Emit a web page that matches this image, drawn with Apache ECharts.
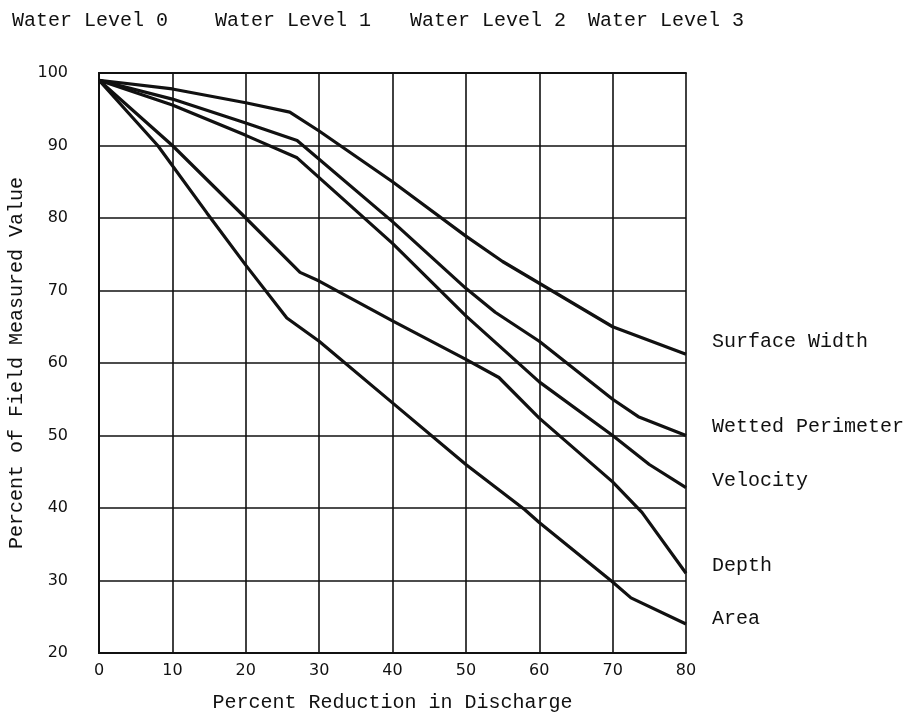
<!DOCTYPE html>
<html>
<head>
<meta charset="utf-8">
<script src="https://cdn.jsdelivr.net/npm/echarts@6/dist/echarts.min.js"></script>
<style>
  html, body { margin: 0; padding: 0; background: #fff; }
  #main { width: 914px; height: 718px; }
</style>
</head>
<body>
<div id="main"></div>
<script>
// percent reduction in discharge (x) vs percent of field measured value (y)
const surfaceWidth = [[0, 99], [10, 97.8], [20, 95.9], [26, 94.6], [30, 92], [40, 85], [50, 77.5], [55, 74], [60, 71], [70, 65], [80, 61.2]];
const wettedPerimeter = [[0, 99], [10, 96.4], [20, 93.1], [27, 90.7], [40, 79.5], [50, 70.3], [54, 67], [60, 63], [70, 55], [73.5, 52.6], [80, 50]];
const velocity = [[0, 99], [10, 95.6], [20, 91.4], [27, 88.3], [40, 76.5], [50, 66.5], [55.5, 61.5], [60, 57.4], [70, 50], [75, 46], [80, 42.8]];
const depth = [[0, 99], [10, 90], [20, 80], [27.4, 72.5], [30, 71.3], [40, 65.8], [50, 60.5], [54.5, 58], [60, 52.4], [70, 43.6], [74, 39.4], [80, 31]];
const area = [[0, 99], [8, 90], [14.7, 80.7], [20, 73.5], [25.6, 66.2], [30, 63], [40, 54.5], [50, 46], [58, 39.8], [60, 38], [70, 29.8], [72.5, 27.6], [80, 24]];

const seriesNames = ['Surface Width', 'Wetted Perimeter', 'Velocity', 'Depth', 'Area'];
const seriesData = [surfaceWidth, wettedPerimeter, velocity, depth, area];
const waterLevels = ['Water Level 0', 'Water Level 1', 'Water Level 2', 'Water Level 3'];

const myChart = echarts.init(document.getElementById('main'));

const mono = 'Liberation Mono';
const labelY = [343, 428, 482, 567, 620];
const levelX = [12, 215, 410, 588];

const graphics = [];
seriesNames.forEach(function (n, i) {
  graphics.push({
    type: 'text', left: 712, top: labelY[i] - 11,
    style: { text: n, font: '20px ' + mono, fill: '#111' }
  });
});
waterLevels.forEach(function (n, i) {
  graphics.push({
    type: 'text', left: levelX[i], top: 11,
    style: { text: n, font: '20px ' + mono, fill: '#111' }
  });
});

const option = {
  animation: false,
  backgroundColor: '#fff',
  // keep the plot box fixed, do not let v6 shrink it for axis names
  grid: { left: 99, top: 73, width: 587, height: 580, outerBoundsMode: 'none', containLabel: false },
  xAxis: {
    type: 'value', min: 0, max: 80, interval: 10,
    name: 'Percent Reduction in Discharge',
    nameLocation: 'middle', nameGap: 40,
    nameTextStyle: { fontFamily: mono, fontSize: 20, color: '#111' },
    axisLine: { lineStyle: { color: '#111', width: 2 } },
    axisTick: { show: false },
    axisLabel: { fontFamily: 'DejaVu Sans', fontSize: 16, color: '#111', margin: 10 },
    splitLine: { show: true, lineStyle: { color: '#111', width: 1.6 } }
  },
  yAxis: {
    type: 'value', min: 20, max: 100, interval: 10,
    name: 'Percent of Field Measured Value',
    nameLocation: 'middle', nameGap: 70,
    nameTextStyle: { fontFamily: mono, fontSize: 20, color: '#111' },
    axisLine: { show: true, lineStyle: { color: '#111', width: 2 } },
    axisTick: { show: false },
    axisLabel: { fontFamily: 'DejaVu Sans', fontSize: 16, color: '#111', margin: 31 },
    splitLine: { show: true, lineStyle: { color: '#111', width: 1.6 } }
  },
  graphic: graphics,
  series: seriesData.map(function (d, i) {
    return {
      name: seriesNames[i],
      type: 'line',
      data: d,
      symbol: 'none',
      lineStyle: { color: '#111', width: 3.2 }
    };
  })
};
myChart.setOption(option);
// border on top and right like the original frame
myChart.setOption({
  xAxis: [option.xAxis, { type: 'value', min: 0, max: 80, position: 'top', axisLine: { lineStyle: { color: '#111', width: 2 } }, axisLabel: { show: false }, axisTick: { show: false }, splitLine: { show: false } }],
  yAxis: [option.yAxis, { type: 'value', min: 20, max: 100, position: 'right', axisLine: { show: true, lineStyle: { color: '#111', width: 2 } }, axisLabel: { show: false }, axisTick: { show: false }, splitLine: { show: false } }]
});
</script>
</body>
</html>
